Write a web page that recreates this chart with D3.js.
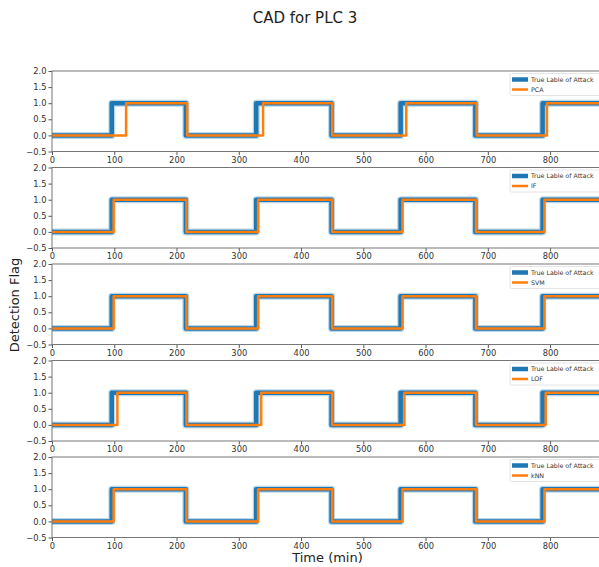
<!DOCTYPE html>
<html>
<head>
<meta charset="utf-8">
<script src="https://cdn.jsdelivr.net/npm/d3@7"></script>
<style>
  html, body { margin: 0; padding: 0; background: #fff; }
  svg { display: block; }
  text { font-family: "DejaVu Sans", sans-serif; }
</style>
</head>
<body>
<svg id="chart" width="599" height="567"></svg>
<script>
// ---- data ----
const models = ["PCA", "IF", "SVM", "LOF", "kNN"];
const truthLabel = "True Lable of Attack";
// step change times (min); values alternate starting at 0
const truthX = [0, 96, 215, 328, 449, 560, 680, 788, 885];
const stepY  = [0, 1, 0, 1, 0, 1, 0, 1, 1];
const pcaX = [0, 119, 217, 339, 450, 569, 682, 795, 885];
const ifX  = [0, 99, 216, 331, 450, 563, 681, 791, 885];
const svmX = [0, 99, 216, 331, 450, 563, 681, 791, 885];
const lofX = [0, 105, 216, 336, 450, 566, 681, 793, 885];
const knnX = [0, 99, 216, 331, 450, 563, 681, 791, 885];
const modelX = [pcaX, ifX, svmX, lofX, knnX];
const xTicks = [0, 100, 200, 300, 400, 500, 600, 700, 800];
const yTicks = [-0.5, 0, 0.5, 1.0, 1.5, 2.0];
const xDomain = [0, 885];
const yDomain = [-0.5, 2.0];

// ---- layout ----
const svg = d3.select("#chart");
const left = 52, right = 603;
const top0 = 71, step = 96.5, ph = 80.5;
const blue = "#1f77b4", orange = "#ff7f0e";

const x = d3.scaleLinear().domain(xDomain).range([left, right]);
const fmtY = v => (v < 0 ? "\u2212" : "") + Math.abs(v).toFixed(1);

svg.append("text").attr("x", 305).attr("y", 23).attr("text-anchor", "middle")
  .attr("font-size", 15).attr("fill", "#222").text("CAD for PLC 3");

models.forEach((m, i) => {
  const t = top0 + i * step;
  const y = d3.scaleLinear().domain(yDomain).range([t + ph, t]);
  const g = svg.append("g");

  const cid = "clip" + i;
  svg.append("clipPath").attr("id", cid).append("rect")
    .attr("x", left).attr("y", t).attr("width", right - left).attr("height", ph);

  const line = d3.line().x(d => x(d[0])).y(d => y(d[1])).curve(d3.curveStepAfter);
  const truthPts = truthX.map((v, k) => [v, stepY[k]]);
  const modPts = modelX[i].map((v, k) => [v, stepY[k]]);

  const lg = g.append("g").attr("clip-path", `url(#${cid})`);
  lg.append("path").attr("d", line(truthPts)).attr("fill", "none")
    .attr("stroke", blue).attr("stroke-opacity", 0.3).attr("stroke-width", 7)
    .attr("stroke-linejoin", "round");
  lg.append("path").attr("d", line(truthPts)).attr("fill", "none")
    .attr("stroke", blue).attr("stroke-width", 4.5).attr("stroke-linejoin", "round");
  lg.append("path").attr("d", line(modPts)).attr("fill", "none")
    .attr("stroke", orange).attr("stroke-width", 2.5).attr("stroke-linejoin", "round");

  // axes
  const ax = g.append("g").attr("transform", `translate(0,${t + ph})`)
    .call(d3.axisBottom(x).tickValues(xTicks).tickSize(3.5).tickPadding(2).tickFormat(d3.format("d")));
  const ay = g.append("g").attr("transform", `translate(${left},0)`)
    .call(d3.axisLeft(y).tickValues(yTicks).tickSize(3.5).tickPadding(2).tickFormat(fmtY));
  [ax, ay].forEach(a => {
    a.select(".domain").remove();
    a.selectAll("line").attr("stroke", "#555");
    a.selectAll("text").attr("font-size", 8.3).attr("fill", "#333")
      .style("font-family", "DejaVu Sans, sans-serif");
  });
  // spines
  g.append("rect").attr("x", left).attr("y", t).attr("width", right - left).attr("height", ph)
    .attr("fill", "none").attr("stroke", "#777").attr("stroke-width", 1);

  // legend
  const lx = 510, ly = t + 2.5;
  const leg = g.append("g");
  leg.append("rect").attr("x", lx).attr("y", ly).attr("width", 92).attr("height", 22)
    .attr("rx", 1.5).attr("fill", "#fff").attr("fill-opacity", 0.8)
    .attr("stroke", "#ddd").attr("stroke-width", 0.8);
  leg.append("line").attr("x1", lx + 2).attr("x2", lx + 18).attr("y1", ly + 6).attr("y2", ly + 6)
    .attr("stroke", blue).attr("stroke-width", 4.5);
  leg.append("line").attr("x1", lx + 2).attr("x2", lx + 18).attr("y1", ly + 16).attr("y2", ly + 16)
    .attr("stroke", orange).attr("stroke-width", 2.5);
  leg.append("text").attr("x", lx + 21).attr("y", ly + 8.2).attr("font-size", 6.3).attr("fill", "#333")
    .text(truthLabel);
  leg.append("text").attr("x", lx + 21).attr("y", ly + 18.2).attr("font-size", 6.3).attr("fill", "#333")
    .text(m);
});

svg.append("text").attr("transform", `translate(19,305) rotate(-90)`).attr("text-anchor", "middle")
  .attr("font-size", 13).attr("fill", "#222").text("Detection Flag");
svg.append("text").attr("x", (left + right) / 2).attr("y", 562).attr("text-anchor", "middle")
  .attr("font-size", 13).attr("fill", "#222").text("Time (min)");
</script>
</body>
</html>
